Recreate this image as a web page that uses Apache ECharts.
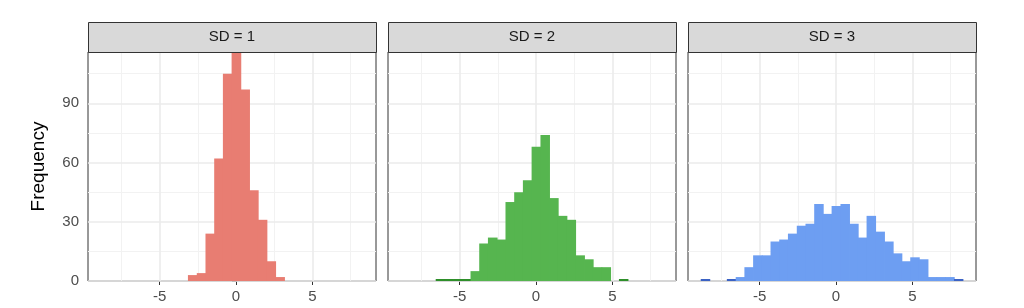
<!DOCTYPE html>
<html>
<head>
<meta charset="utf-8">
<script src="https://cdn.jsdelivr.net/npm/echarts@6/dist/echarts.min.js"></script>
<style>
html,body{margin:0;padding:0;background:#fff;}
#chart{width:1024px;height:308px;}
</style>
</head>
<body>
<div id="chart"></div>
<script>
// ---- data ----
var panelTitles = ['SD = 1', 'SD = 2', 'SD = 3'];
var binEdges = [-8.83, -8.26, -7.69, -7.12, -6.54, -5.97, -5.40, -4.83, -4.26, -3.69,
                -3.12, -2.54, -1.97, -1.40, -0.83, -0.26, 0.32, 0.89, 1.46, 2.03,
                2.60, 3.18, 3.75, 4.32, 4.89, 5.46, 6.03, 6.61, 7.18, 7.75, 8.32];
var countsSD1 = [0, 0, 0, 0, 0, 0, 0, 0, 0, 0,
                 3, 4, 24, 62, 105, 116, 97, 46, 31, 10,
                 2, 0, 0, 0, 0, 0, 0, 0, 0, 0];
var countsSD2 = [0, 0, 0, 0, 1, 1, 1, 1, 5, 19,
                 22, 21, 40, 45, 51, 68, 74, 42, 33, 31,
                 13, 11, 7, 7, 0, 1, 0, 0, 0, 0];
var countsSD3 = [1, 0, 0, 1, 2, 7, 13, 13, 20, 21,
                 24, 28, 29, 39, 34, 38, 39, 29, 22, 33,
                 25, 20, 14, 10, 12, 11, 2, 2, 2, 1];
var xTickValues = [-5, 0, 5];
var xMinorValues = [-7.5, -2.5, 2.5, 7.5];
var yTickValues = [0, 30, 60, 90];
var yMinorValues = [15, 45, 75, 105];
var xRange = [-9.69, 9.17];
var yRange = [0, 116];

// ---- styling / layout ----
var colors = ['#E87D72', '#56B54F', '#6D9EF2'];
var edgeColors = ['#C9554B', '#2E8F2A', '#3B62C4'];
var allCounts = [countsSD1, countsSD2, countsSD3];
var panelLeft = [88, 388, 688];
var panelWidth = 288;
var panelTop = 52;
var panelHeight = 229;
var stripTop = 22;
var stripHeight = 30;
var FONT = '"Liberation Sans", Arial, Helvetica, sans-serif';

var chart = echarts.init(document.getElementById('chart'), null, {renderer: 'canvas'});

var grids = [], xAxes = [], yAxes = [], series = [], graphics = [];

function binData(counts) {
  var out = [];
  for (var i = 0; i < counts.length; i++) {
    out.push([binEdges[i], binEdges[i + 1], counts[i]]);
  }
  return out;
}

for (var p = 0; p < 3; p++) {
  grids.push({
    left: panelLeft[p], top: panelTop, width: panelWidth, height: panelHeight,
    show: true, backgroundColor: '#ffffff', borderColor: '#333333', borderWidth: 1,
    containLabel: false
  });
  xAxes.push({
    gridIndex: p, type: 'value', min: xRange[0], max: xRange[1],
    axisLine: {show: false},
    axisTick: {show: true, customValues: xTickValues, length: 4, lineStyle: {color: '#333333', width: 1}},
    axisLabel: {show: true, customValues: xTickValues, margin: 8, color: '#4D4D4D', fontSize: 15, fontFamily: FONT,
                formatter: function (v) { return String(v); }},
    splitLine: {show: false}, minorSplitLine: {show: false}
  });
  var yAx = {
    gridIndex: p, type: 'value', min: yRange[0], max: yRange[1],
    axisLine: {show: false},
    axisTick: {show: p === 0, customValues: yTickValues, length: 4, lineStyle: {color: '#333333', width: 1}},
    axisLabel: {show: p === 0, customValues: yTickValues, margin: 9, color: '#4D4D4D', fontSize: 15, fontFamily: FONT},
    splitLine: {show: false}
  };
  if (p === 0) {
    yAx.name = 'Frequency';
    yAx.nameLocation = 'middle';
    yAx.nameRotate = 90;
    yAx.nameGap = 40;
    yAx.nameTextStyle = {color: '#000000', fontSize: 19, fontFamily: FONT};
  }
  yAxes.push(yAx);

  var ml = [];
  xMinorValues.forEach(function (v) { ml.push({xAxis: v, lineStyle: {color: '#F2F2F2', width: 1, type: 'solid'}}); });
  yMinorValues.forEach(function (v) { ml.push({yAxis: v, lineStyle: {color: '#F2F2F2', width: 1, type: 'solid'}}); });
  xTickValues.forEach(function (v) { ml.push({xAxis: v, lineStyle: {color: '#EBEBEB', width: 1.6, type: 'solid'}}); });
  yTickValues.forEach(function (v) { ml.push({yAxis: v, lineStyle: {color: '#EBEBEB', width: 1.6, type: 'solid'}}); });

  series.push({
    type: 'line', xAxisIndex: p, yAxisIndex: p, data: [], silent: true, z: 1,
    markLine: {silent: true, symbol: ['none', 'none'], label: {show: false}, animation: false, z: 1, data: ml}
  });

  (function (color, edge) {
    series.push({
      type: 'custom', xAxisIndex: p, yAxisIndex: p, z: 3, silent: true,
      encode: {x: [0, 1], y: 2},
      data: binData(allCounts[p]),
      renderItem: function (params, api) {
        var x0 = api.value(0), x1 = api.value(1), c = api.value(2);
        if (!(c > 0)) return null;
        var a = api.coord([x0, 0]);
        var b = api.coord([x1, c]);
        var h = a[1] - b[1];
        var small = h < 3;
        return {
          type: 'rect',
          shape: {x: a[0] - 0.4, y: b[1], width: b[0] - a[0] + 0.8, height: h},
          style: {fill: small ? edge : color, stroke: null}
        };
      }
    });
  })(colors[p], edgeColors[p]);

  graphics.push({
    type: 'rect', left: panelLeft[p], top: stripTop, z: 10,
    shape: {x: 0, y: 0, width: panelWidth, height: stripHeight},
    style: {fill: '#D9D9D9', stroke: '#333333', lineWidth: 1}
  });
  graphics.push({
    type: 'text', z: 11,
    x: panelLeft[p] + panelWidth / 2, y: stripTop + stripHeight / 2,
    style: {text: panelTitles[p], fill: '#1A1A1A', font: '15px ' + FONT, align: 'center', verticalAlign: 'middle'}
  });
}

chart.setOption({
  animation: false,
  backgroundColor: '#ffffff',
  grid: grids,
  xAxis: xAxes,
  yAxis: yAxes,
  series: series,
  graphic: graphics
});
</script>
</body>
</html>
